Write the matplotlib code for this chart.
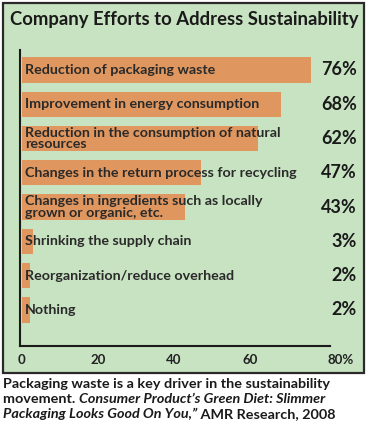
import matplotlib
matplotlib.use("Agg")
import matplotlib.pyplot as plt
from matplotlib.patches import Rectangle
import matplotlib.transforms as mtransforms

title = "Company Efforts to Address Sustainability"
categories = [
    "Reduction of packaging waste",
    "Improvement in energy consumption",
    "Reduction in the consumption of natural\nresources",
    "Changes in the return process for recycling",
    "Changes in ingredients such as locally\ngrown or organic, etc.",
    "Shrinking the supply chain",
    "Reorganization/reduce overhead",
    "Nothing",
]
values = [76, 68, 62, 47, 43, 3, 2, 2]
value_labels = ["76%", "68%", "62%", "47%", "43%", "3%", "2%", "2%"]
tick_values = [0, 20, 40, 60, 80]
tick_labels = ["0", "20", "40", "60", "80%"]

W, H = 368, 430
fig = plt.figure(figsize=(W / 100, H / 100), dpi=100)
fig.patch.set_facecolor("white")

BG = "#c7e3c1"
BAR = "#e0975f"
FONT = ["Lato", "DejaVu Sans"]

# green panel
panel = Rectangle((3 / W, 1 - 373 / H), 361 / W, 370 / H, transform=fig.transFigure,
                  facecolor=BG, edgecolor="#2a2a2a", linewidth=1.6, zorder=-5)
fig.patches.append(panel)

fig.text(10 / W, 1 - 19 / H, title, fontsize=13.3, fontweight="bold", family=FONT,
         color="#1a1a1a", va="center", ha="left")

ax = fig.add_axes([20 / W, 1 - 346 / H, 310 / W, 296 / H])
ax.set_facecolor("none")
y = list(range(len(categories)))
ax.barh(y, values, height=0.74, color=BAR, zorder=2)
ax.set_xlim(-0.5, 81)
ax.set_ylim(8.05, -0.58)
for s in ["top", "right"]:
    ax.spines[s].set_visible(False)
for s in ["left", "bottom"]:
    ax.spines[s].set_color("#1a1a1a")
    ax.spines[s].set_linewidth(1.5)
ax.set_yticks([])
ax.set_xticks(tick_values)
ax.set_xticklabels(tick_labels, fontsize=9.5, fontweight="bold", family=FONT, color="#222222")
ax.tick_params(axis="x", length=0, pad=6)
last = ax.get_xticklabels()[-1]
last.set_transform(last.get_transform() +
                   mtransforms.ScaledTranslation(14 / 100, 0, fig.dpi_scale_trans))

trans = mtransforms.blended_transform_factory(fig.transFigure, ax.transData)
for i, (c, v) in enumerate(zip(categories, value_labels)):
    ax.text(0.8, i, c, fontsize=10.3, fontweight="bold", family=FONT, color="#2a2a2a",
            va="center", ha="left", linespacing=0.92, zorder=3)
    ax.text(357 / W, i, v, transform=trans, fontsize=13, fontweight="bold", family=FONT,
            color="#1a1a1a", va="center", ha="right", clip_on=False)

# caption
cap_kw = dict(fontsize=10.4, family=FONT, fontweight="bold", color="#1a1a1a")
fig.text(3 / W, 1 - 388 / H, "Packaging waste is a key driver in the sustainability",
         va="baseline", ha="left", **cap_kw)
t1 = fig.text(3 / W, 1 - 403 / H, "movement. ", va="baseline", ha="left", **cap_kw)
ax.annotate("Consumer Product\u2019s Green Diet: Slimmer", xy=(1, 0), xycoords=t1,
            va="bottom", ha="left", style="italic", annotation_clip=False, **cap_kw)
t3 = fig.text(3 / W, 1 - 418 / H, "Packaging Looks Good On You,\u201d", va="baseline",
              ha="left", style="italic", **cap_kw)
ax.annotate(" AMR Research, 2008", xy=(1, 0), xycoords=t3, va="bottom", ha="left",
            annotation_clip=False, **cap_kw)

fig.savefig("out.png", dpi=100, facecolor="white")
